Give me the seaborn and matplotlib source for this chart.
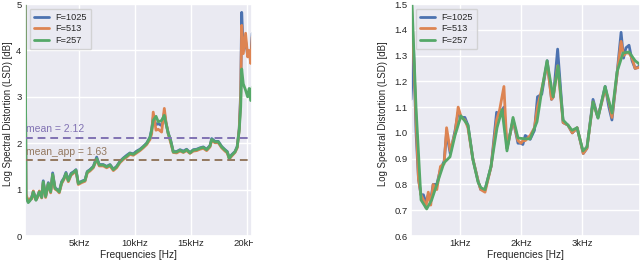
import numpy as np
import pandas as pd
import seaborn as sns
import matplotlib.pyplot as plt
from matplotlib.transforms import Bbox, TransformedBbox

# series names (legend order)
series = ['F=1025', 'F=513', 'F=257']

# ---- left panel: full band, frequencies in kHz ----
f_left = [0.18, 0.27, 0.47, 0.62, 0.78, 0.92, 1.05, 1.16, 1.30, 1.46,
          1.67, 1.81, 2.02, 2.26, 2.47, 2.65, 2.86, 3.07, 3.24, 3.45,
          3.66, 3.84, 4.05, 4.29, 4.55, 4.73, 4.94, 5.24, 5.54, 5.74,
          5.98, 6.28, 6.58, 6.81, 7.17, 7.47, 7.77, 8.07, 8.36, 8.66,
          8.96, 9.26, 9.55, 9.85, 10.15, 10.45, 10.74, 11.04, 11.34, 11.49,
          11.63, 11.88, 12.08, 12.38, 12.62, 12.77, 12.97, 13.18, 13.42, 13.72,
          14.02, 14.32, 14.61, 14.91, 15.21, 15.51, 15.80, 16.10, 16.40, 16.70,
          16.85, 17.14, 17.44, 17.74, 18.04, 18.24, 18.42, 18.63, 18.93, 19.13,
          19.31, 19.44, 19.53, 19.67, 19.88, 20.06, 20.20, 20.33, 20.47]

lsd_left_257 = [5.40, 0.85, 0.72, 0.76, 0.82, 0.95, 0.86, 0.77, 0.85, 0.95,
                0.83, 1.17, 0.85, 1.13, 0.95, 1.33, 1.03, 0.99, 0.95, 1.15,
                1.24, 1.35, 1.19, 1.33, 1.38, 1.42, 1.13, 1.17, 1.20, 1.38,
                1.42, 1.49, 1.67, 1.53, 1.53, 1.49, 1.53, 1.43, 1.49, 1.60,
                1.67, 1.72, 1.78, 1.76, 1.81, 1.86, 1.92, 1.99, 2.12, 2.28,
                2.49, 2.58, 2.46, 2.49, 2.60, 2.42, 2.21, 2.06, 1.81, 1.81,
                1.85, 1.81, 1.86, 1.79, 1.85, 1.86, 1.89, 1.91, 1.86, 1.94,
                2.08, 2.03, 2.03, 1.92, 1.85, 1.81, 1.67, 1.74, 1.81, 1.92,
                2.28, 2.78, 3.60, 3.28, 3.14, 3.00, 3.18, 2.92, 3.21]

lsd_left_513 = [5.40, 0.90, 0.74, 0.80, 0.80, 0.97, 0.84, 0.78, 0.83, 0.97,
                0.82, 1.15, 0.83, 1.12, 0.93, 1.31, 1.01, 0.98, 0.93, 1.13,
                1.22, 1.33, 1.17, 1.31, 1.36, 1.40, 1.11, 1.15, 1.18, 1.36,
                1.40, 1.47, 1.65, 1.51, 1.51, 1.47, 1.51, 1.41, 1.47, 1.58,
                1.65, 1.70, 1.76, 1.74, 1.79, 1.84, 1.90, 1.97, 2.08, 2.20,
                2.67, 2.28, 2.30, 2.24, 2.75, 2.45, 2.20, 2.02, 1.80, 1.79,
                1.83, 1.80, 1.84, 1.78, 1.83, 1.84, 1.87, 1.89, 1.84, 1.92,
                2.06, 2.01, 2.01, 1.90, 1.83, 1.79, 1.66, 1.72, 1.80, 1.90,
                2.30, 3.00, 4.54, 3.93, 4.37, 3.86, 4.00, 3.72, 4.29]

lsd_left_1025 = [5.40, 0.88, 0.73, 0.78, 0.84, 0.96, 0.87, 0.78, 0.86, 0.96,
                 0.84, 1.19, 0.86, 1.15, 0.96, 1.36, 1.04, 1.00, 0.96, 1.17,
                 1.25, 1.37, 1.20, 1.35, 1.39, 1.43, 1.14, 1.18, 1.21, 1.39,
                 1.43, 1.50, 1.70, 1.54, 1.54, 1.50, 1.54, 1.44, 1.50, 1.61,
                 1.68, 1.74, 1.79, 1.77, 1.83, 1.87, 1.93, 2.00, 2.13, 2.30,
                 2.55, 2.40, 2.42, 2.38, 2.65, 2.44, 2.22, 2.07, 1.82, 1.82,
                 1.86, 1.83, 1.87, 1.80, 1.86, 1.87, 1.90, 1.92, 1.87, 1.95,
                 2.10, 2.04, 2.04, 1.93, 1.86, 1.82, 1.68, 1.75, 1.82, 1.93,
                 2.32, 3.10, 4.82, 4.00, 4.20, 3.90, 3.95, 3.80, 4.37]

mean_lsd = 2.12
mean_app = 1.63

# ---- right panel: zoom on low frequencies (kHz) ----
f_right_257 = [0.197, 0.279, 0.361, 0.454, 0.536, 0.62, 0.738, 0.836, 0.918, 1.016,
               1.131, 1.213, 1.295, 1.344, 1.41, 1.508, 1.607, 1.689, 1.77, 1.869,
               1.951, 2.066, 2.15, 2.262, 2.344, 2.426, 2.525, 2.607, 2.689, 2.77,
               2.836, 2.918, 3.016, 3.082, 3.18, 3.262, 3.377, 3.492, 3.574, 3.672,
               3.77, 3.87, 3.95]
lsd_right_257 = [1.60, 1.10, 0.74, 0.705, 0.74, 0.80, 0.884, 0.907, 0.99, 1.066,
                 1.03, 0.895, 0.81, 0.787, 0.78, 0.87, 1.02, 1.09, 0.93, 1.06,
                 0.98, 0.977, 0.977, 1.043, 1.17, 1.28, 1.14, 1.26, 1.05, 1.03,
                 1.01, 1.02, 0.93, 0.946, 1.12, 1.057, 1.18, 1.077, 1.237, 1.31,
                 1.314, 1.28, 1.265]

f_right_fine = [0.197, 0.24, 0.28, 0.32, 0.36, 0.40, 0.44, 0.48, 0.52, 0.56,
                0.62, 0.68, 0.74, 0.78, 0.84, 0.92, 0.97, 1.02, 1.08, 1.13,
                1.21, 1.30, 1.34, 1.41, 1.51, 1.60, 1.65, 1.72, 1.77, 1.87,
                1.95, 2.00, 2.03, 2.07, 2.15, 2.22, 2.27, 2.34, 2.43, 2.50,
                2.53, 2.60, 2.69, 2.77, 2.84, 2.92, 3.02, 3.08, 3.18, 3.26,
                3.38, 3.44, 3.49, 3.57, 3.64, 3.68, 3.72, 3.77, 3.82, 3.87,
                3.95]
lsd_right_513 = [1.55, 1.30, 1.05, 0.82, 0.76, 0.74, 0.71, 0.77, 0.72, 0.80,
                 0.78, 0.87, 0.88, 1.02, 0.93, 1.00, 1.10, 1.06, 1.05, 1.02,
                 0.90, 0.81, 0.78, 0.77, 0.87, 1.05, 1.09, 1.18, 0.94, 1.05,
                 0.97, 0.96, 0.97, 0.97, 0.99, 1.02, 1.10, 1.17, 1.27, 1.13,
                 1.14, 1.26, 1.04, 1.03, 1.00, 1.02, 0.92, 0.94, 1.12, 1.06,
                 1.17, 1.12, 1.06, 1.22, 1.355, 1.30, 1.31, 1.31, 1.29, 1.25,
                 1.255]
lsd_right_1025 = [1.13, 1.32, 1.00, 0.82, 0.76, 0.76, 0.73, 0.76, 0.74, 0.80,
                  0.80, 0.86, 0.89, 1.00, 0.92, 1.01, 1.08, 1.06, 1.06, 1.03,
                  0.90, 0.81, 0.78, 0.78, 0.87, 1.08, 1.07, 1.10, 0.94, 1.05,
                  0.96, 0.96, 0.955, 0.99, 0.975, 1.01, 1.14, 1.15, 1.28, 1.13,
                  1.14, 1.325, 1.04, 1.03, 1.00, 1.02, 0.92, 0.94, 1.13, 1.06,
                  1.18, 1.10, 1.05, 1.22, 1.39, 1.29, 1.33, 1.34, 1.28, 1.25,
                  1.26]


def to_long(pairs):
    frames = []
    for name, f, v in pairs:
        frames.append(pd.DataFrame({'freq': f, 'lsd': v, 'series': name}))
    return pd.concat(frames, ignore_index=True)


left = to_long([('F=1025', f_left, lsd_left_1025),
                ('F=513', f_left, lsd_left_513),
                ('F=257', f_left, lsd_left_257)])
right = to_long([('F=1025', f_right_fine, lsd_right_1025),
                 ('F=513', f_right_fine, lsd_right_513),
                 ('F=257', f_right_257, lsd_right_257)])

sns.set_theme(style='darkgrid')
plt.rcParams['font.family'] = ['Liberation Sans', 'DejaVu Sans']
pal = sns.color_palette('deep')

fig = plt.figure(figsize=(6.4, 2.62), dpi=100)
ax1 = fig.add_axes([25 / 640, 26 / 262, 227 / 640, 232 / 262])
ax2 = fig.add_axes([411 / 640, 26 / 262, 229 / 640, 232 / 262])

for ax, df in [(ax1, left), (ax2, right)]:
    sns.lineplot(data=df, x='freq', y='lsd', hue='series', hue_order=series,
                 palette=pal[:3], estimator=None, linewidth=2, ax=ax)
    ax.set_xlabel('Frequencies [Hz]', fontsize=7.3, labelpad=1)
    ax.set_ylabel('Log Spectral Distortion (LSD) [dB]', fontsize=6.9)
    ax.tick_params(labelsize=6.8, pad=2.5, length=0)
    ax.legend(loc='upper left', fontsize=6.6, handlelength=1.7, borderpad=0.45,
              labelspacing=0.3, handletextpad=0.7, framealpha=0.8)

# y label placement (right edge of the rotated text)
ax1.yaxis.set_label_coords(-0.052, 0.526)
ax2.yaxis.set_label_coords(-0.100, 0.526)

# mean lines on the full-band panel
ax1.axhline(mean_lsd, color=pal[4], linestyle='--', linewidth=1.4, dashes=(4, 2.5))
ax1.axhline(mean_app, color=pal[5], linestyle='--', linewidth=1.4, dashes=(4, 2.5))
ax1.text(0.3, mean_lsd + 0.08, 'mean = %.2f' % mean_lsd, color=pal[4], fontsize=7.5, va='bottom')
ax1.text(0.3, mean_app + 0.08, 'mean_app = %.2f' % mean_app, color=pal[5], fontsize=7.5, va='bottom')

ax1.set_xlim(0.18, 20.45)
ax1.set_ylim(0, 5)
ax1.set_xticks([5, 10, 15, 20])
ax1.set_xticklabels(['5kHz', '10kHz', '15kHz', '20kHz'])
ax1.set_yticks([0, 1, 2, 3, 4, 5])

ax2.set_xlim(0.197, 3.95)
ax2.set_ylim(0.6, 1.5)
ax2.set_xticks([1, 2, 3])
ax2.set_xticklabels(['1kHz', '2kHz', '3kHz'])
ax2.set_yticks(np.round(np.arange(0.6, 1.51, 0.1), 1))
ax2.set_yticklabels(['%.1f' % t for t in np.arange(0.6, 1.51, 0.1)])

# the reference cuts the last tick label at the panel edge
clip = TransformedBbox(Bbox([[0, 0], [253 / 640, 1]]), fig.transFigure)
for lab in ax1.get_xticklabels():
    lab.set_clip_box(clip)
    lab.set_clip_on(True)

fig.savefig('out.png', dpi=100)
